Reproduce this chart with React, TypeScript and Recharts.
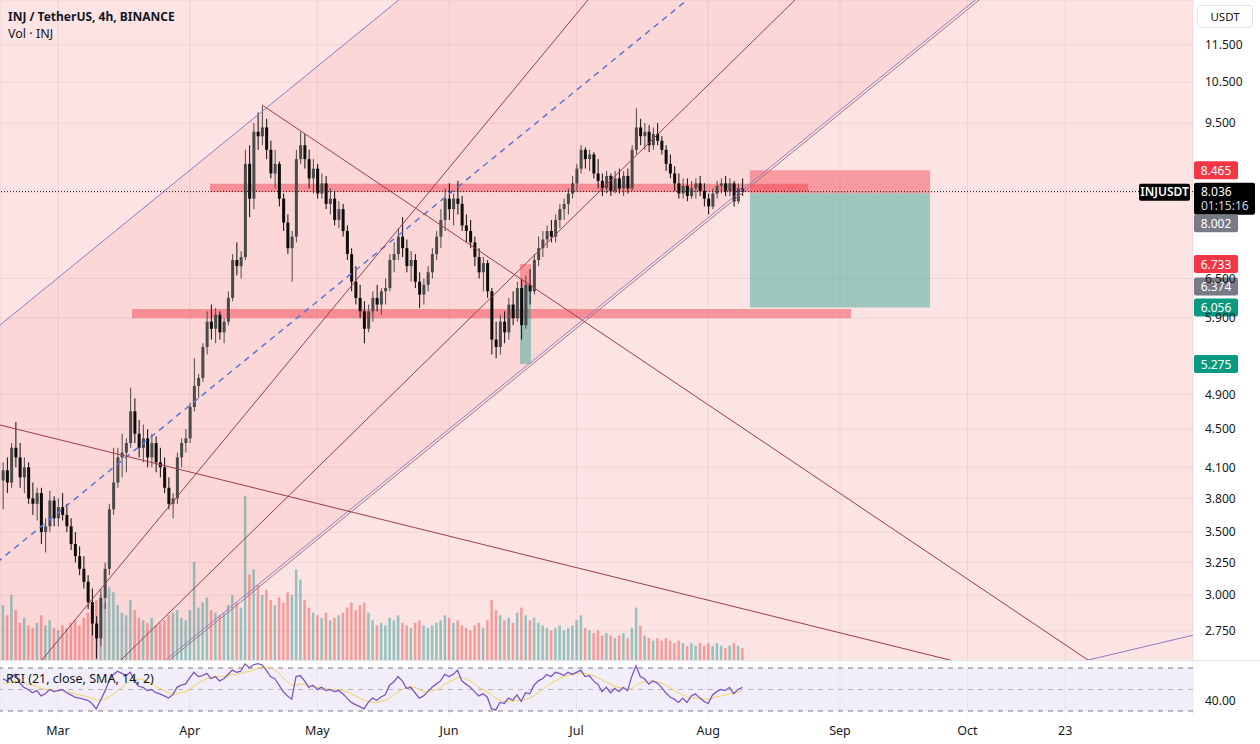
import React from "react";
import {
  ComposedChart,
  Bar,
  Line,
  Area,
  XAxis,
  YAxis,
  CartesianGrid,
  ReferenceLine,
  ReferenceArea,
  Cell,
} from "recharts";

// one candle per day, day 0 = Mar 1
const FIRST_DAY = -13;

const OHLC: [number, number, number, number][] = [
  [3.97, 4.15, 3.7, 4.07], [4.07, 4.2, 3.85, 3.95], [3.95, 4.35, 3.9, 4.3], [4.3, 4.58, 4.1, 4.2],
  [4.2, 4.35, 3.9, 4.0], [4.0, 4.2, 3.85, 4.1], [4.1, 4.15, 3.75, 3.8], [3.8, 3.95, 3.65, 3.75],
  [3.75, 3.9, 3.6, 3.85], [3.85, 3.9, 3.4, 3.5], [3.5, 3.62, 3.33, 3.55], [3.55, 3.87, 3.5, 3.78],
  [3.78, 3.82, 3.55, 3.62],
  [3.62, 3.8, 3.55, 3.72], [3.72, 3.85, 3.6, 3.65], [3.65, 3.75, 3.5, 3.55], [3.55, 3.62, 3.35, 3.4],
  [3.4, 3.5, 3.25, 3.3], [3.3, 3.38, 3.15, 3.2], [3.2, 3.3, 3.05, 3.1], [3.1, 3.15, 2.9, 2.95],
  [2.95, 3.05, 2.72, 2.8], [2.8, 2.85, 2.57, 2.7],
  [2.7, 3.05, 2.65, 2.98], [2.98, 3.25, 2.9, 3.2], [3.2, 3.75, 3.15, 3.7], [3.7, 4.3, 3.65, 3.95],
  [3.95, 4.3, 3.9, 4.2], [4.2, 4.45, 4.0, 4.25], [4.25, 4.4, 4.05, 4.35], [4.35, 4.98, 4.3, 4.7],
  [4.7, 4.85, 4.35, 4.45], [4.45, 4.6, 4.2, 4.3],
  [4.3, 4.55, 4.15, 4.4], [4.4, 4.5, 4.1, 4.2], [4.2, 4.45, 4.1, 4.35], [4.35, 4.42, 4.05, 4.15],
  [4.15, 4.3, 4.0, 4.1], [4.1, 4.2, 3.85, 3.9], [3.9, 4.0, 3.7, 3.75], [3.75, 3.85, 3.62, 3.8],
  [3.8, 4.25, 3.75, 4.2], [4.2, 4.4, 4.1, 4.35], [4.35, 4.5, 4.25, 4.4],
  [4.4, 4.8, 4.35, 4.75], [4.75, 5.35, 4.7, 5.0], [5.0, 5.15, 4.85, 5.1], [5.1, 5.55, 5.05, 5.5],
  [5.5, 6.0, 5.4, 5.85], [5.85, 6.1, 5.6, 5.75], [5.75, 6.05, 5.55, 5.95], [5.95, 6.0, 5.6, 5.7],
  [5.7, 5.9, 5.55, 5.85], [5.85, 6.3, 5.8, 6.2], [6.2, 6.9, 6.15, 6.8], [6.8, 7.1, 6.55, 6.7],
  [6.7, 6.95, 6.5, 6.85],
  [6.85, 8.9, 6.8, 8.6], [8.6, 9.0, 7.55, 7.9], [7.9, 9.5, 7.7, 9.3], [9.3, 9.75, 8.9, 9.2],
  [9.2, 9.9, 9.0, 9.4], [9.4, 9.6, 8.7, 8.9], [8.9, 9.1, 8.3, 8.4], [8.4, 8.9, 8.1, 8.6],
  [8.6, 8.65, 7.75, 7.9], [7.9, 8.0, 7.3, 7.45], [7.45, 7.6, 6.9, 7.0], [7.0, 7.3, 6.45, 7.2],
  [7.2, 8.9, 7.1, 8.7], [8.7, 9.3, 8.6, 9.0], [9.0, 9.25, 8.5, 8.7], [8.7, 8.9, 8.1, 8.3],
  [8.3, 8.7, 8.0, 8.5],
  [8.5, 8.6, 7.9, 8.0], [8.0, 8.4, 7.9, 8.2], [8.2, 8.35, 7.7, 7.8], [7.8, 8.1, 7.6, 7.9],
  [7.9, 8.05, 7.4, 7.5], [7.5, 7.85, 7.35, 7.7], [7.7, 7.8, 7.2, 7.3], [7.3, 7.4, 6.8, 6.9],
  [6.9, 7.0, 6.3, 6.45], [6.45, 6.7, 6.1, 6.2], [6.2, 6.4, 5.9, 6.0], [6.0, 6.15, 5.55, 5.75],
  [5.75, 6.1, 5.7, 6.0], [6.0, 6.3, 5.85, 6.2], [6.2, 6.4, 6.0, 6.1], [6.1, 6.35, 5.95, 6.3],
  [6.3, 6.5, 6.1, 6.35],
  [6.35, 6.9, 6.3, 6.8], [6.8, 7.1, 6.6, 6.9], [6.9, 7.35, 6.8, 7.2], [7.2, 7.55, 6.85, 7.0],
  [7.0, 7.15, 6.6, 6.7], [6.7, 6.95, 6.45, 6.8], [6.8, 6.9, 6.35, 6.45], [6.45, 6.6, 6.05, 6.25],
  [6.25, 6.5, 6.1, 6.4], [6.4, 6.7, 6.3, 6.6], [6.6, 7.0, 6.5, 6.9], [6.9, 7.3, 6.8, 7.2],
  [7.2, 7.7, 7.0, 7.5], [7.5, 8.1, 7.3, 7.9],
  [7.9, 8.2, 7.5, 7.7], [7.7, 8.0, 7.4, 7.9], [7.9, 8.25, 7.6, 7.8], [7.8, 7.95, 7.3, 7.4],
  [7.4, 7.6, 7.1, 7.3], [7.3, 7.5, 7.0, 7.1], [7.1, 7.2, 6.7, 6.85], [6.85, 7.0, 6.5, 6.6],
  [6.6, 6.85, 6.3, 6.75], [6.75, 6.8, 6.2, 6.3],
  [6.3, 6.35, 5.4, 5.6], [5.6, 5.85, 5.35, 5.5], [5.5, 5.95, 5.4, 5.85], [5.85, 6.0, 5.55, 5.7],
  [5.7, 6.2, 5.6, 6.1], [6.1, 6.3, 5.8, 5.9], [5.9, 6.45, 5.85, 6.35], [6.35, 6.5, 5.6, 5.8],
  [5.8, 6.55, 5.75, 6.4], [6.4, 6.65, 6.1, 6.3],
  [6.3, 6.9, 6.25, 6.8], [6.8, 7.2, 6.7, 7.0], [7.0, 7.3, 6.85, 7.15], [7.15, 7.4, 7.0, 7.3],
  [7.3, 7.5, 7.1, 7.2], [7.2, 7.6, 7.1, 7.5], [7.5, 7.8, 7.35, 7.7], [7.7, 7.9, 7.5, 7.8],
  [7.8, 8.1, 7.6, 8.0], [8.0, 8.35, 7.9, 8.2],
  [8.2, 8.6, 8.05, 8.5], [8.5, 9.0, 8.4, 8.9], [8.9, 8.95, 8.5, 8.7], [8.7, 8.9, 8.45, 8.8],
  [8.8, 8.85, 8.3, 8.4], [8.4, 8.7, 8.1, 8.25], [8.25, 8.4, 7.95, 8.1], [8.1, 8.45, 8.0, 8.35],
  [8.35, 8.4, 7.95, 8.05], [8.05, 8.45, 8.0, 8.3], [8.3, 8.5, 8.0, 8.1], [8.1, 8.45, 7.95, 8.35],
  [8.35, 8.5, 8.0, 8.1],
  [8.1, 9.0, 8.05, 8.9], [8.9, 9.85, 8.8, 9.4], [9.4, 9.6, 9.0, 9.2], [9.2, 9.5, 8.9, 9.3],
  [9.3, 9.45, 8.85, 9.0], [9.0, 9.4, 8.9, 9.25], [9.25, 9.5, 9.0, 9.1], [9.1, 9.2, 8.8, 8.9],
  [8.9, 9.0, 8.45, 8.6], [8.6, 8.8, 8.3, 8.4], [8.4, 8.55, 8.05, 8.2],
  [8.2, 8.4, 7.9, 8.0], [8.0, 8.3, 7.9, 8.15], [8.15, 8.3, 7.85, 7.95], [7.95, 8.25, 7.9, 8.1],
  [8.1, 8.3, 7.9, 8.2], [8.2, 8.35, 7.95, 8.05], [8.05, 8.2, 7.75, 7.9], [7.9, 8.0, 7.6, 7.75],
  [7.75, 8.1, 7.7, 8.0], [8.0, 8.25, 7.9, 8.15], [8.15, 8.3, 8.0, 8.2], [8.2, 8.35, 7.95, 8.05],
  [8.05, 8.3, 7.95, 8.2], [8.2, 8.25, 7.75, 7.85], [7.85, 8.2, 7.8, 8.1], [8.1, 8.3, 7.95, 8.036],
];

// INJ volume, millions
const VOLUME = [
  2.2, 1.8, 2.6, 2.0, 1.5, 1.7, 1.4, 1.3, 1.5, 1.8, 1.4, 1.6, 1.3,
  1.2, 1.4, 1.3, 1.5, 1.6, 1.4, 1.7, 1.9, 2.2, 2.4,
  2.6, 2.3, 2.9, 2.7, 2.2, 1.9, 1.8, 2.4, 2.0, 1.7,
  1.6, 1.5, 1.7, 1.4, 1.5, 1.6, 1.8, 1.9, 2.0, 1.7, 1.6,
  2.0, 3.9, 2.1, 2.3, 2.5, 2.0, 1.9, 1.8, 1.9, 2.2, 2.6, 2.3, 2.1,
  6.5, 3.4, 3.6, 3.0, 2.6, 2.8, 2.4, 2.2, 2.5, 2.3, 2.7, 2.6, 3.6, 3.2, 2.4, 2.1, 1.9,
  1.8, 1.7, 1.9, 1.6, 1.7, 1.8, 1.9, 2.1, 2.3, 2.0, 2.2, 2.3, 1.9, 1.6, 1.4, 1.5,
  1.4, 1.7, 1.6, 1.8, 1.5, 1.4, 1.3, 1.5, 1.6, 1.4, 1.3, 1.4, 1.5, 1.6, 1.8,
  1.7, 1.5, 1.6, 1.4, 1.3, 1.2, 1.4, 1.5, 1.3, 1.6, 2.4, 2.0, 1.8, 1.6, 1.7,
  1.5, 1.9, 2.1, 1.8, 1.6, 1.7, 1.5, 1.4, 1.3, 1.2, 1.3, 1.4, 1.2, 1.3, 1.4,
  1.6, 1.8, 1.3, 1.2, 1.1, 1.2, 1.0, 1.1, 1.0, 0.9, 1.0, 1.1, 0.9, 1.3, 2.1,
  1.4, 1.0, 0.9, 0.8, 0.9, 0.8, 0.9, 0.8, 0.7, 0.8, 0.7, 0.6, 0.7, 0.6, 0.7,
  0.6, 0.7, 0.6, 0.7, 0.6, 0.5, 0.6, 0.7, 0.6, 0.5,
];

const RSI = [
  60, 58, 62, 64, 56, 52, 50, 47, 49, 44, 46, 50, 48,
  49, 50, 47, 45, 43, 42, 41, 40, 37, 32,
  40, 48, 58, 64, 67, 65, 63, 66, 58, 53,
  52, 49, 50, 47, 46, 44, 42, 45, 52, 54, 55,
  61, 66, 62, 63, 65, 60, 62, 58, 60, 64, 68, 66, 67,
  74, 70, 73, 74, 73, 68, 62, 60, 54, 48, 44, 41, 62, 63, 58, 52, 54,
  50, 52, 49, 50, 48, 49, 46, 42, 38, 36, 34, 32, 38, 42, 40, 43, 45,
  54, 57, 62, 58, 51, 52, 47, 42, 44, 48, 52, 55, 58, 64,
  62, 64, 68, 58, 55, 52, 48, 44, 46, 43,
  32, 31, 38, 37, 42, 40, 45, 39, 47, 46,
  54, 58, 60, 64, 62, 66, 65, 63, 66, 64,
  66, 68, 62, 63, 58, 55, 48, 52, 47, 51, 48, 52, 49,
  62, 72, 62, 60, 55, 58, 56, 52, 47, 43, 41,
  38, 42, 38, 44, 46, 42, 39, 37, 45, 48, 50, 49, 52, 46, 50, 52,
];

const RSI_MA = [
  56, 56, 57, 58, 57, 56, 55, 54, 53, 51, 50, 50, 49,
  49, 49, 48, 47, 46, 45, 44, 43, 42, 40,
  40, 41, 43, 46, 49, 52, 55, 58, 59, 60,
  59, 57, 55, 53, 51, 49, 47, 46, 46, 47, 48,
  50, 53, 56, 58, 60, 61, 62, 62, 62, 63, 64, 64, 65,
  66, 67, 68, 70, 71, 71, 70, 68, 65, 61, 57, 54, 54, 55, 55, 54, 53,
  52, 52, 51, 50, 50, 50, 49, 48, 46, 44, 42, 40, 39, 38, 38, 39, 40,
  42, 45, 48, 50, 52, 53, 52, 50, 48, 48, 49, 50, 52, 55,
  57, 59, 61, 61, 60, 58, 55, 52, 50, 48,
  45, 42, 40, 39, 39, 39, 40, 40, 41, 42,
  44, 47, 50, 53, 56, 58, 60, 62, 63, 64,
  65, 65, 65, 64, 63, 61, 59, 57, 55, 53, 52, 51, 50,
  51, 54, 56, 57, 58, 58, 57, 56, 54, 52, 49,
  47, 45, 43, 42, 42, 42, 41, 41, 42, 43, 44, 45, 46, 47, 48, 48,
];

const MONTH_TICKS = [0, 31, 61, 92, 122, 153, 184, 214, 237];
const MONTH_LABELS = ["Mar", "Apr", "May", "Jun", "Jul", "Aug", "Sep", "Oct", "23"];
const PRICE_TICKS = [2.75, 3, 3.25, 3.5, 3.8, 4.1, 4.5, 4.9, 5.9, 6.5, 9.5, 10.5, 11.5];

// drawings, anchors as [day, price]
const CHANNEL_TOP = [[-18.35, 5.576], [268.7, 63.2]];
const CHANNEL_MID = [[-18.35, 3.142], [268.7, 35.6]];
const CHANNEL_BOTTOM = [[-18.35, 1.77], [268.7, 20.06]];
const CHANNEL_BOTTOM_2 = [[-18.35, 1.757], [268.7, 19.91]];
const FAN_1 = [[-13.65, 2.263], [151.06, 17.86]];
const FAN_2 = [[-13.65, 1.918], [221.6, 20.94]];
const PEAK_LINE = [[48.0, 9.93], [242.35, 2.561]];
const PEAK_LINE_END = [[242.35, 2.561], [292.2, 2.894]];
const LONG_DOWN = [[-13.65, 4.546], [221.6, 2.485]];

const ZONES = [
  { from: 35.76, to: 176.5, lo: 8.03, hi: 8.19 },
  { from: 17.41, to: 186.6, lo: 5.9, hi: 6.035 },
];
const POSITIONS = [
  { from: 162.8, to: 205.2, stop: 8.465, entry: 8.002, target: 6.056 },
  { from: 108.7, to: 111.3, stop: 6.733, entry: 6.374, target: 5.275 },
];
const LAST_PRICE = 8.036;
const BADGES = [
  { price: 8.465, bg: "#f23645", dy: 0 },
  { price: 8.002, bg: "#787b86", dy: 30 },
  { price: 6.733, bg: "#f23645", dy: 0 },
  { price: 6.374, bg: "#787b86", dy: 0 },
  { price: 6.056, bg: "#089981", dy: 0 },
  { price: 5.275, bg: "#089981", dy: 0 },
];

const X_DOMAIN = [-13.65, 267.06];
const FONT = "'Noto Sans', Roboto, sans-serif";
const TEXT = "#131722";
const MAROON = "#9c3d4d";
const PURPLE = "#8e7cc3";

const rows = OHLC.map(([o, h, l, c], i) => ({
  d: FIRST_DAY + i,
  o,
  h,
  l,
  c,
  range: [l, h],
  v: VOLUME[i],
  rsi: RSI[i],
  ma: RSI_MA[i],
  up: c >= o,
}));

const channelRows = [0, 1].map((k) => ({
  d: CHANNEL_TOP[k][0],
  band: [CHANNEL_BOTTOM[k][1], CHANNEL_TOP[k][1]],
}));

const LINES = [
  { pts: CHANNEL_TOP, color: PURPLE, dash: undefined, w: 1 },
  { pts: CHANNEL_MID, color: "#5f73d9", dash: "6 5", w: 1.5 },
  { pts: CHANNEL_BOTTOM, color: PURPLE, dash: undefined, w: 1 },
  { pts: CHANNEL_BOTTOM_2, color: "#b06a7a", dash: undefined, w: 1 },
  { pts: FAN_1, color: MAROON, dash: undefined, w: 1 },
  { pts: FAN_2, color: MAROON, dash: undefined, w: 1 },
  { pts: PEAK_LINE, color: MAROON, dash: undefined, w: 1 },
  { pts: PEAK_LINE_END, color: PURPLE, dash: undefined, w: 1 },
  { pts: LONG_DOWN, color: MAROON, dash: undefined, w: 1 },
];

const Candle = (props: any) => {
  const { x, y, width, height, payload } = props;
  if (!payload) return null;
  const { o, h, l, c } = payload;
  const top = Math.min(y, y + height);
  const hgt = Math.abs(height);
  const lh = Math.log(h);
  const ll = Math.log(l);
  const py = (v: number) => (lh === ll ? top : top + ((lh - Math.log(v)) / (lh - ll)) * hgt);
  const yo = py(o);
  const yc = py(c);
  const color = c >= o ? "#4a4a4a" : "#0d0d0d";
  const cx = x + width / 2;
  return (
    <g>
      <line x1={cx} x2={cx} y1={top} y2={top + hgt} stroke={color} strokeWidth={1} />
      <rect x={x} y={Math.min(yo, yc)} width={width} height={Math.max(1, Math.abs(yc - yo))} fill={color} />
    </g>
  );
};

const Badge = (props: any) => {
  const { viewBox, text, bg, dy } = props;
  if (!viewBox) return null;
  const x = viewBox.x + viewBox.width + 1;
  const y = viewBox.y + dy;
  return (
    <g>
      <rect x={x} y={y - 9} width={44} height={18} rx={2} fill={bg} />
      <text x={x + 22} y={y + 4.5} textAnchor="middle" fill="#fff" fontSize={12} fontFamily={FONT}>
        {text}
      </text>
    </g>
  );
};

const LastBadge = (props: any) => {
  const { viewBox } = props;
  if (!viewBox) return null;
  const x = viewBox.x + viewBox.width;
  const y = viewBox.y;
  return (
    <g fontFamily={FONT} fontSize={12}>
      <rect x={x - 54} y={y - 8} width={51} height={17} rx={2} fill="#000" />
      <text x={x - 28.5} y={y + 4.5} textAnchor="middle" fill="#fff" fontWeight={600}>
        INJUSDT
      </text>
      <rect x={x + 1} y={y - 9} width={61} height={32} rx={2} fill="#000" />
      <text x={x + 8} y={y + 4.5} fill="#fff">
        {LAST_PRICE.toFixed(3)}
      </text>
      <text x={x + 8} y={y + 18.5} fill="#d1d4dc">
        01:15:16
      </text>
    </g>
  );
};

export default function App() {
  return (
    <div
      style={{
        position: "relative",
        width: 1260,
        height: 744,
        background: "#fff",
        overflow: "hidden",
        fontFamily: FONT,
      }}
    >
      <style>{`body{margin:0}`}</style>
      <div style={{ position: "absolute", left: 0, top: 0, width: 1193, height: 661, background: "#fce3e4" }} />

      {/* volume pane, drawn first so drawings sit above */}
      <div style={{ position: "absolute", left: 0, top: 0 }}>
        <ComposedChart width={1260} height={661} data={rows} margin={{ top: 0, right: 67, bottom: 0, left: 0 }}>
          <XAxis dataKey="d" type="number" domain={X_DOMAIN} allowDataOverflow hide />
          <YAxis domain={[0, 26]} hide />
          <Bar dataKey="v" barSize={2.5} isAnimationActive={false}>
            {rows.map((r, i) => (
              <Cell key={`v-${i}`} fill={r.up ? "rgba(38,166,154,0.5)" : "rgba(239,83,80,0.5)"} />
            ))}
          </Bar>
        </ComposedChart>
      </div>

      <div style={{ position: "absolute", left: 0, top: 0 }}>
        <ComposedChart width={1260} height={661} data={rows} margin={{ top: 0, right: 0, bottom: 0, left: 0 }}>
          <XAxis dataKey="d" type="number" domain={X_DOMAIN} ticks={MONTH_TICKS} allowDataOverflow hide />
          <YAxis
            orientation="right"
            width={67}
            scale="log"
            domain={[2.555, 12.83]}
            allowDataOverflow
            ticks={PRICE_TICKS}
            tickFormatter={(v: number) => v.toFixed(3)}
            axisLine={false}
            tickLine={false}
            tick={{ fill: TEXT, fontSize: 12, fontFamily: FONT, dx: 4 }}
          />
          <CartesianGrid stroke="rgba(120,100,110,0.10)" />
          <Area
            data={channelRows}
            dataKey="band"
            type="linear"
            stroke="none"
            fill="#f23645"
            fillOpacity={0.07}
            isAnimationActive={false}
          />
          {ZONES.map((z, i) => (
            <ReferenceArea key={`z-${i}`} x1={z.from} x2={z.to} y1={z.lo} y2={z.hi} fill="#f23645" fillOpacity={0.45} stroke="none" />
          ))}
          {POSITIONS.map((p, i) => (
            <ReferenceArea key={`ps-${i}`} x1={p.from} x2={p.to} y1={p.entry} y2={p.stop} fill="#f23645" fillOpacity={0.42} stroke="none" />
          ))}
          {POSITIONS.map((p, i) => (
            <ReferenceArea key={`pt-${i}`} x1={p.from} x2={p.to} y1={p.target} y2={p.entry} fill="#089981" fillOpacity={0.38} stroke="none" />
          ))}
          <Bar dataKey="range" barSize={3} isAnimationActive={false} shape={(p: any) => <Candle {...p} />} />
          {LINES.map((ln, i) => (
            <ReferenceLine
              key={`l-${i}`}
              segment={[
                { x: ln.pts[0][0], y: ln.pts[0][1] },
                { x: ln.pts[1][0], y: ln.pts[1][1] },
              ]}
              stroke={ln.color}
              strokeWidth={ln.w}
              strokeDasharray={ln.dash}
              ifOverflow="hidden"
            />
          ))}
          <ReferenceLine y={LAST_PRICE} stroke="#131722" strokeDasharray="1 2" label={<LastBadge />} />
          {BADGES.map((b, i) => (
            <ReferenceLine
              key={`b-${i}`}
              y={b.price}
              stroke="none"
              strokeOpacity={0}
              label={<Badge text={b.price.toFixed(3)} bg={b.bg} dy={b.dy} />}
            />
          ))}
        </ComposedChart>
      </div>

      <div style={{ position: "absolute", left: 0, top: 660, width: 1260, height: 1, background: "#e0e3eb" }} />

      <div style={{ position: "absolute", left: 0, top: 661 }}>
        <ComposedChart width={1260} height={83} data={rows} margin={{ top: 0, right: 0, bottom: 0, left: 0 }}>
          <XAxis
            dataKey="d"
            type="number"
            domain={X_DOMAIN}
            allowDataOverflow
            ticks={MONTH_TICKS}
            tickFormatter={(v: number) => MONTH_LABELS[MONTH_TICKS.indexOf(v)] ?? ""}
            axisLine={false}
            tickLine={false}
            height={28}
            tickMargin={4}
            tick={{ fill: TEXT, fontSize: 12.5, fontFamily: FONT }}
          />
          <YAxis
            orientation="right"
            width={67}
            domain={[25.35, 76.51]}
            allowDataOverflow
            ticks={[40]}
            tickFormatter={(v: number) => v.toFixed(2)}
            axisLine={false}
            tickLine={false}
            tick={{ fill: TEXT, fontSize: 12, fontFamily: FONT, dx: 4 }}
          />
          <ReferenceArea y1={30} y2={70} fill="#7e57c2" fillOpacity={0.1} stroke="none" />
          <CartesianGrid horizontal={false} stroke="rgba(120,100,140,0.08)" />
          <ReferenceLine y={70} stroke="#787b86" strokeDasharray="5 5" />
          <ReferenceLine y={50} stroke="#787b86" strokeOpacity={0.5} strokeDasharray="5 5" />
          <ReferenceLine y={30} stroke="#787b86" strokeDasharray="5 5" />
          <Line dataKey="ma" type="linear" stroke="#f2d35b" strokeWidth={1} dot={false} isAnimationActive={false} />
          <Line dataKey="rsi" type="linear" stroke="#7e57c2" strokeWidth={1.3} dot={false} isAnimationActive={false} />
        </ComposedChart>
      </div>

      <div style={{ position: "absolute", left: 8, top: 8, fontSize: 12, fontWeight: 700, color: TEXT }}>
        INJ / TetherUS, 4h, BINANCE
      </div>
      <div style={{ position: "absolute", left: 8, top: 25, fontSize: 12.5, color: TEXT }}>Vol · INJ</div>
      <div style={{ position: "absolute", left: 6, top: 670, fontSize: 12.5, color: TEXT }}>
        RSI (21, close, SMA, 14, 2)
      </div>
      <div
        style={{
          position: "absolute",
          left: 1197,
          top: 5,
          width: 56,
          height: 23,
          border: "1px solid #e0e3eb",
          borderRadius: 4,
          boxSizing: "border-box",
          fontSize: 11.5,
          color: TEXT,
          textAlign: "center",
          lineHeight: "21px",
          background: "#fff",
        }}
      >
        USDT
      </div>
    </div>
  );
}
